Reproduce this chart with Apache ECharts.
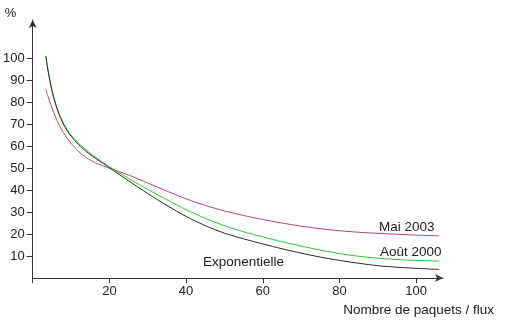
<!DOCTYPE html>
<html><head><meta charset="utf-8">
<script src="https://cdn.jsdelivr.net/npm/echarts@6/dist/echarts.min.js"></script>
<style>html,body{margin:0;padding:0;background:#fff}#c{width:507px;height:323px}</style>
</head><body><div id="c"></div>
<script>
const xValues = [3.4, 4, 5, 6, 7, 8, 9, 10, 12, 14, 16, 18, 20, 25, 30, 35, 40, 45, 50, 55, 60, 65, 70, 75, 80, 85, 90, 95, 100, 106];
const mai2003 = [86, 82.5, 77.5, 73, 69.3, 66.2, 63.5, 61.2, 57.5, 54.7, 52.7, 51.2, 49.9, 46.8, 43.2, 39.5, 36, 33, 30.5, 28.4, 26.6, 25, 23.6, 22.4, 21.5, 20.8, 20.3, 19.9, 19.5, 19.2];
const aout2000 = [101, 94.6, 85.8, 79.3, 74.3, 70.5, 67.5, 65, 61.2, 58.1, 55.4, 52.9, 50.6, 45.3, 40.3, 35.6, 31.1, 27.1, 23.8, 21, 18.7, 16.5, 14.5, 12.7, 11.1, 9.9, 9, 8.4, 8, 7.7];
const exponentielle = [101, 94.2, 85.3, 78.8, 73.8, 70, 67, 64.5, 60.6, 57.5, 54.9, 52.5, 50.1, 44.2, 38.4, 33, 28, 23.8, 20.4, 17.8, 15.5, 13.3, 11.3, 9.5, 8, 6.7, 5.6, 4.9, 4.4, 3.9];
const xTicks = [20, 40, 60, 80, 100];
const yTicks = [10, 20, 30, 40, 50, 60, 70, 80, 90, 100];
const seriesNames = ['Mai 2003', 'Août 2000', 'Exponentielle'];

const FONT = 'Liberation Sans';
const pairs = arr => xValues.map((x, i) => [x, arr[i]]);
const chart = echarts.init(document.getElementById('c'));
const mk = (name, data, color) => ({
  name, type: 'line', data: pairs(data), smooth: 0.25, symbol: 'none',
  lineStyle: { color, width: 1 }, z: 3
});
chart.setOption({
  animation: false,
  grid: { left: 30, right: 64, top: 20, bottom: 45, containLabel: false },
  xAxis: {
    type: 'value', min: 0, max: 107, interval: 20,
    name: 'Nombre de paquets / flux', nameLocation: 'end', nameGap: 0,
    nameTextStyle: { fontFamily: FONT, fontSize: 13.5, color: '#222', align: 'right', verticalAlign: 'top', padding: [25, -51, 0, 0] },
    axisLine: { show: true, lineStyle: { color: '#333', width: 1 }, symbol: ['none', 'arrow'], symbolSize: [6, 8] },
    axisTick: { show: true, length: 5, inside: false, customValues: [0].concat(xTicks), lineStyle: { color: '#333' } },
    axisLabel: { customValues: xTicks, fontFamily: FONT, fontSize: 13, color: '#222', margin: 7 },
    splitLine: { show: false }
  },
  yAxis: {
    type: 'value', min: 0, max: 117.3, interval: 10,
    name: '%', nameLocation: 'end', nameGap: 0,
    nameTextStyle: { fontFamily: FONT, fontSize: 13, color: '#222', align: 'left', verticalAlign: 'bottom', padding: [0, 0, 0, -28] },
    axisLine: { show: true, lineStyle: { color: '#333', width: 1 }, symbol: ['none', 'arrow'], symbolSize: [6, 8] },
    axisTick: { show: true, length: 6, customValues: yTicks, lineStyle: { color: '#333' } },
    axisLabel: { customValues: yTicks, fontFamily: FONT, fontSize: 13, color: '#222', margin: 8 },
    splitLine: { show: false }
  },
  series: [
    mk(seriesNames[0], mai2003, '#c8405e'),
    mk(seriesNames[1], aout2000, '#2ec62e'),
    mk(seriesNames[2], exponentielle, '#2a2a2a')
  ],
  graphic: [
    { type: 'text', left: 379, top: 220, style: { text: seriesNames[0], font: '13.5px "Liberation Sans"', fill: '#222' } },
    { type: 'text', left: 380, top: 245, style: { text: seriesNames[1], font: '13.5px "Liberation Sans"', fill: '#222' } },
    { type: 'text', left: 203, top: 255, style: { text: seriesNames[2], font: '13.5px "Liberation Sans"', fill: '#222' } }
  ]
});
</script></body></html>
